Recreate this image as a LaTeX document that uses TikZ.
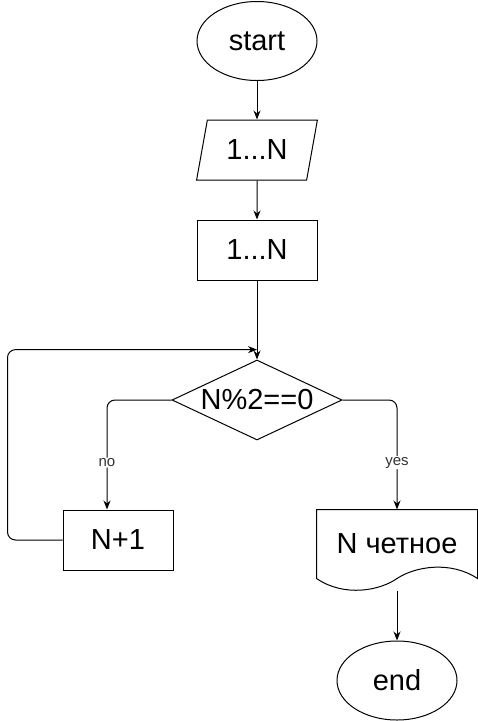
\documentclass[tikz,border=0pt]{standalone}
\usepackage{fontspec}
\setmainfont{Liberation Sans}
\usetikzlibrary{arrows.meta,calc,shapes.geometric}

\begin{document}
\begin{tikzpicture}[x=1pt,y=-1pt,line width=1pt,
    box/.style={draw, font=\fontsize{29}{33}\selectfont, inner sep=0pt},
    term/.style={box, ellipse, minimum width=120, minimum height=79},
    io/.style={box, trapezium, trapezium left angle=71.6, trapezium right angle=108.4,
      trapezium stretches=true, minimum width=121, minimum height=60},
    proc/.style={box, rectangle, minimum height=60},
    cond/.style={box, diamond, aspect=2.125, minimum width=170, minimum height=80},
    docbox/.style={box, draw=none, rectangle, minimum width=160, minimum height=68},
    flow/.style={-{Stealth[length=9pt,width=7pt]}},
    lbl/.style={fill=white, font=\fontsize{15}{17}\selectfont, text=black!80, inner sep=1pt}]
    \useasboundingbox (0,0) rectangle (478,721);
    % Terminals and blocks
    \node[term] (start) at (257,41) {start};
    \node[io] (input) at (257,150) {1...N};
    \node[proc, minimum width=120] (init) at (257,250) {1...N};
    \node[cond] (test) at (257,400) {N\%2==0};
    \node[proc, minimum width=110] (inc) at (118,540) {N+1};
    \node[docbox] (even) at (397,544) {N четное};
    \node[term] (stop) at (397,680.5) {end};
    % Document outline with wavy bottom
    \draw (even.south west) -- (even.north west) -- (even.north east) -- (even.south east)
      .. controls ($(even.south east)+(-27,-18)$) and ($(even.south)+(18,-12)$) .. (even.south)
      .. controls ($(even.south)+(-17,12)$) and ($(even.south west)+(28,19)$) .. (even.south west) -- cycle;
    % Main line
    \draw[flow] (start) -- (input);
    \draw[flow] (input) -- (init);
    \draw[flow] (init) -- (test);
    \coordinate (join) at ($(init.south)!0.875!(test.north)$);
    % Loop back
    \draw[flow, rounded corners=8pt] (inc.west) -- ++(-55,0) |- (join);
    % Branches
    \draw[flow, rounded corners=8pt] (test.west) -| node[lbl, pos=0.786] {no} ([xshift=-11pt]inc.north);
    \draw[flow, rounded corners=8pt] (test.east) -| node[lbl, pos=0.786] {yes} (even.north);
    \draw[flow] ([yshift=-12pt]even.south) -- (stop);
\end{tikzpicture}
\end{document}
